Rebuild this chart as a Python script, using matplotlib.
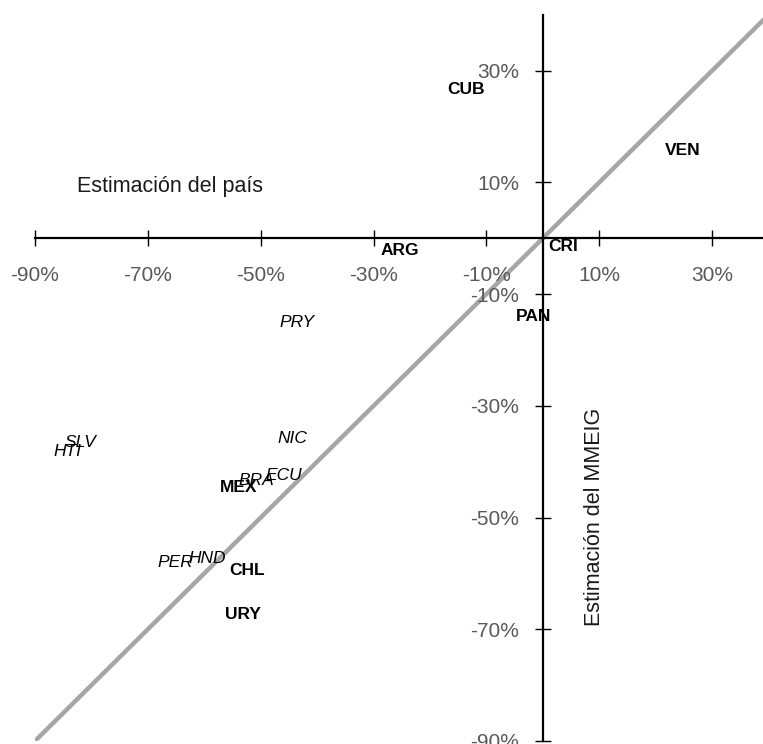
import matplotlib
matplotlib.use("Agg")
import matplotlib.pyplot as plt
from matplotlib.ticker import FixedLocator, FuncFormatter

plt.rcParams['font.family'] = ['Liberation Sans', 'DejaVu Sans']

# Country label positions (x = Estimación del país, y = Estimación del MMEIG), in %
countries = ["CUB", "VEN", "ARG", "CRI", "PAN", "MEX", "CHL", "URY",
             "PRY", "NIC", "ECU", "BRA", "SLV", "HTI", "HND", "PER"]
x_vals = [-13.6, 24.7, -25.3, 3.6, -1.7, -53.9, -52.5, -53.2,
          -43.5, -44.3, -45.9, -50.7, -81.9, -84.2, -59.4, -65.1]
y_vals = [26.6, 15.7, -2.2, -1.5, -14.0, -44.7, -59.5, -67.4,
          -15.1, -35.8, -42.4, -43.3, -36.5, -38.1, -57.4, -58.1]
bold = [True, True, True, True, True, True, True, True,
        False, False, False, False, False, False, False, False]

x_ticks = [-90, -70, -50, -30, -10, 10, 30]
y_ticks = [30, 10, -10, -30, -50, -70, -90]
diag = [-90, 40]

fig = plt.figure(figsize=(7.63, 7.44), dpi=100)
ax = fig.add_axes([35/763, 3/744, 1 - 35/763, (741 - 14.7)/744])
ax.set_xlim(-90, 39)
ax.set_ylim(-90, 40)

# diagonal reference line
ax.plot(diag, diag, color='#A6A6A6', lw=3.2, solid_capstyle='butt', zorder=1)

for s in ['top', 'right']:
    ax.spines[s].set_visible(False)
ax.spines['left'].set_position(('data', 0))
ax.spines['bottom'].set_position(('data', 0))
for s in ['left', 'bottom']:
    ax.spines[s].set_linewidth(1.6)
    ax.spines[s].set_color('black')
    ax.spines[s].set_zorder(2)

ax.xaxis.set_major_locator(FixedLocator(x_ticks))
ax.yaxis.set_major_locator(FixedLocator(y_ticks))
fmt = FuncFormatter(lambda v, p: f"{int(v)}%")
ax.xaxis.set_major_formatter(fmt)
ax.yaxis.set_major_formatter(fmt)
ax.tick_params(axis='both', direction='inout', length=12, width=1.0,
               color='black', labelsize=15, labelcolor='#595959')
ax.tick_params(axis='x', pad=14)
ax.tick_params(axis='y', pad=11)

for c, x, y, b in zip(countries, x_vals, y_vals, bold):
    ax.text(x, y, c, ha='center', va='center', fontsize=12.5,
            fontweight='bold' if b else 'normal',
            fontstyle='normal' if b else 'italic', color='black', zorder=3)

ax.text(-82.6, 9.2, "Estimación del país", ha='left', va='center',
        fontsize=15.5, color='#1a1a1a')
ax.text(9.1, -49.9, "Estimación del MMEIG", ha='center', va='center',
        rotation=90, fontsize=15.5, color='#1a1a1a')

fig.savefig("out.png", dpi=100)
